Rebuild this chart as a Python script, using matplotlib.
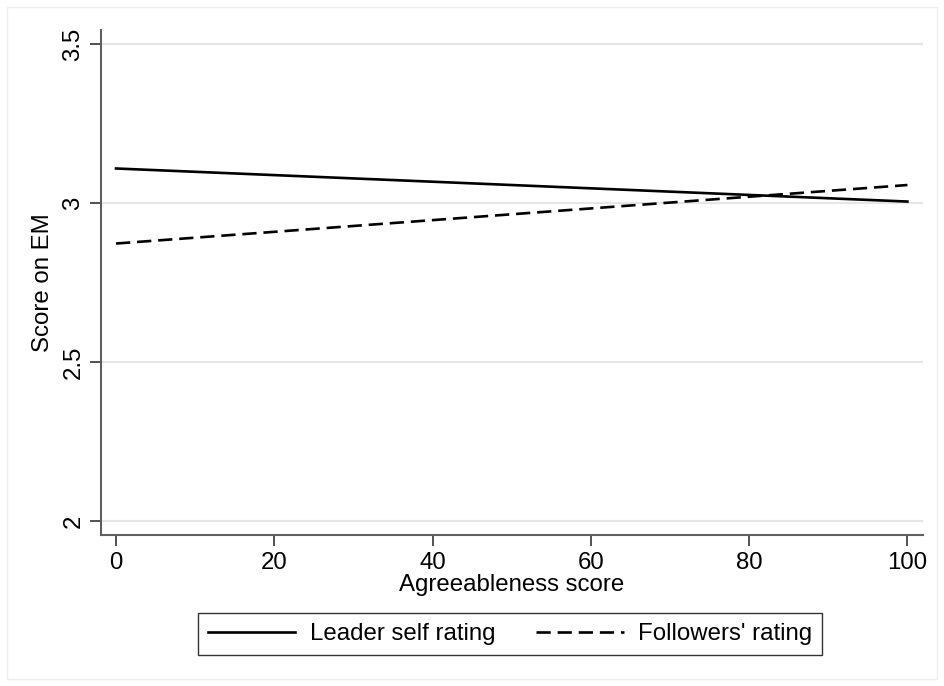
import matplotlib.pyplot as plt
from matplotlib.patches import Rectangle

plt.rcParams['font.family'] = ['Liberation Sans', 'DejaVu Sans']

# agreeableness score endpoints and fitted EM scores
agree = [0, 100]
leader = [3.109, 3.005]
followers = [2.873, 3.057]

xticks = [0, 20, 40, 60, 80, 100]
yticks = [2, 2.5, 3, 3.5]
yticklabels = ['2', '2.5', '3', '3.5']

fs = 17.3

fig = plt.figure(figsize=(9.44, 6.86), dpi=100)
ax = fig.add_axes([0.107, 0.220, 0.871, 0.736])

# faint outer border like stata graph region
fig.patches.append(Rectangle((7 / 944, 7 / 686), 930 / 944, 672 / 686, transform=fig.transFigure,
                             fill=False, edgecolor='#eeeeee', lw=1))

ax.plot(agree, leader, color='black', lw=1.9, label='Leader self rating')
ax.plot(agree, followers, color='black', lw=1.9, dashes=(5.4, 2.6), label="Followers' rating")

ax.set_xlim(-1.9, 102)
ax.set_ylim(1.956, 3.544)
ax.set_xticks(xticks)
ax.set_yticks(yticks)
ax.set_yticklabels(yticklabels, rotation=90, va='center')
ax.grid(axis='y', color='#e6e6e6', lw=1.5)
ax.set_axisbelow(True)

for s in ['top', 'right']:
    ax.spines[s].set_visible(False)
for s in ['left', 'bottom']:
    ax.spines[s].set_color('#5f5f5f')
    ax.spines[s].set_linewidth(1.5)
ax.tick_params(axis='both', length=8, width=1.2, color='#333333', labelsize=fs, pad=4)

ax.set_xlabel('Agreeableness score', fontsize=fs, labelpad=0)
ax.set_ylabel('Score on EM', fontsize=fs, labelpad=6)

leg = ax.legend(loc='center', bbox_to_anchor=(510 / 944, 1 - 634 / 686), bbox_transform=fig.transFigure,
                ncol=2, frameon=True, fancybox=False, fontsize=fs, handlelength=3.65,
                columnspacing=1.7, borderpad=0.4, handletextpad=0.6)
leg.get_frame().set_edgecolor('black')
leg.get_frame().set_linewidth(1)

fig.savefig('out.png', dpi=100)
